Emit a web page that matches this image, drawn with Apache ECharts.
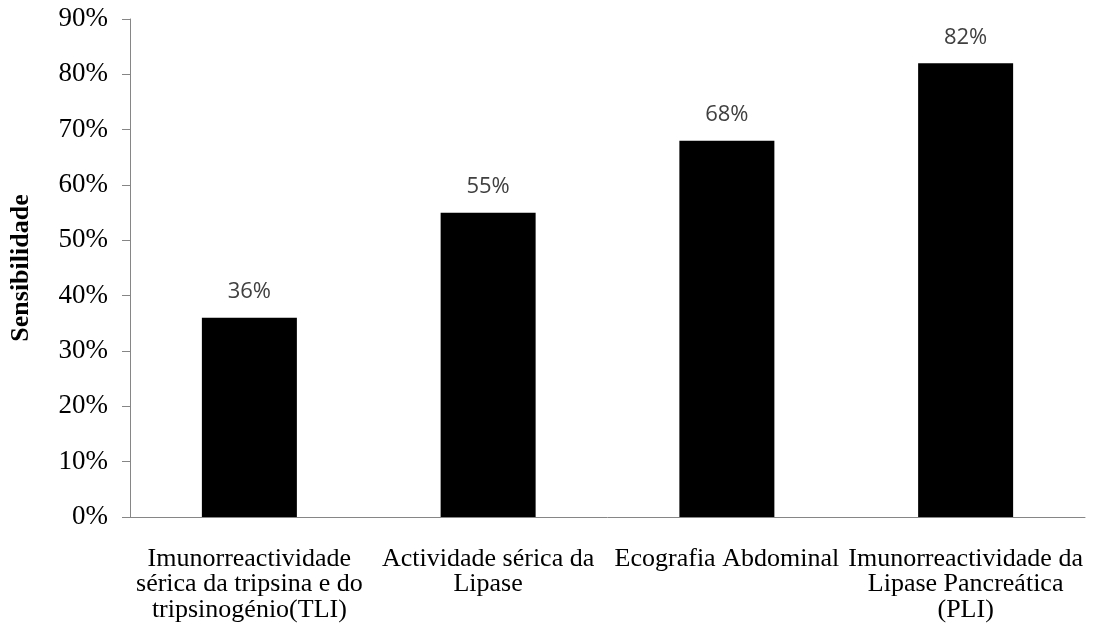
<!DOCTYPE html>
<html lang="pt">
<head>
    <meta charset="UTF-8">
    <title>Sensibilidade</title>
    <style>
        html, body { margin: 0; padding: 0; background: #fff; }
    </style>
</head>
<body>
    <div id="chart" style="width:1095px; height:634px"></div>

    <script src="https://cdn.jsdelivr.net/npm/echarts@6/dist/echarts.min.js"></script>
    <script>
        // dados
        const categorias = [
            'Imunorreactividade\nsérica da tripsina e do\ntripsinogénio(TLI)',
            'Actividade sérica da\nLipase',
            'Ecografia Abdominal',
            'Imunorreactividade da\nLipase Pancreática\n(PLI)'
        ];
        const sensibilidade = [36, 55, 68, 82];

        const serif = '"Liberation Serif", "Times New Roman", serif';
        const eixoCor = '#868686';

        const chart = echarts.init(document.getElementById('chart'));

        chart.setOption({
            animation: false,
            grid: { left: 127, right: 10, top: 19, bottom: 117 },
            xAxis: {
                type: 'category',
                data: categorias,
                axisLine: { lineStyle: { color: eixoCor, width: 1 } },
                axisTick: { length: 8, lineStyle: { color: eixoCor } },
                axisLabel: {
                    interval: 0,
                    margin: 29,
                    fontFamily: serif,
                    fontSize: 26,
                    lineHeight: 25.5,
                    color: '#000'
                }
            },
            yAxis: {
                type: 'value',
                min: 0,
                max: 90,
                interval: 10,
                name: 'Sensibilidade',
                nameLocation: 'middle',
                nameGap: 96,
                nameTextStyle: {
                    fontFamily: serif,
                    fontWeight: 'bold',
                    fontSize: 26,
                    color: '#000'
                },
                splitLine: { show: false },
                axisLine: { show: true, lineStyle: { color: eixoCor, width: 1 } },
                axisTick: { show: true, length: 8, lineStyle: { color: eixoCor } },
                axisLabel: {
                    margin: 22,
                    formatter: '{value}%',
                    fontFamily: serif,
                    fontSize: 27,
                    color: '#000'
                }
            },
            series: [{
                type: 'bar',
                data: sensibilidade,
                barWidth: 95,
                itemStyle: { color: '#000' },
                label: {
                    show: true,
                    position: 'top',
                    distance: 15,
                    formatter: '{c}%',
                    fontFamily: '"Open Sans", "Noto Sans", sans-serif',
                    fontSize: 22,
                    color: '#404040'
                }
            }]
        });
    </script>
</body>
</html>
